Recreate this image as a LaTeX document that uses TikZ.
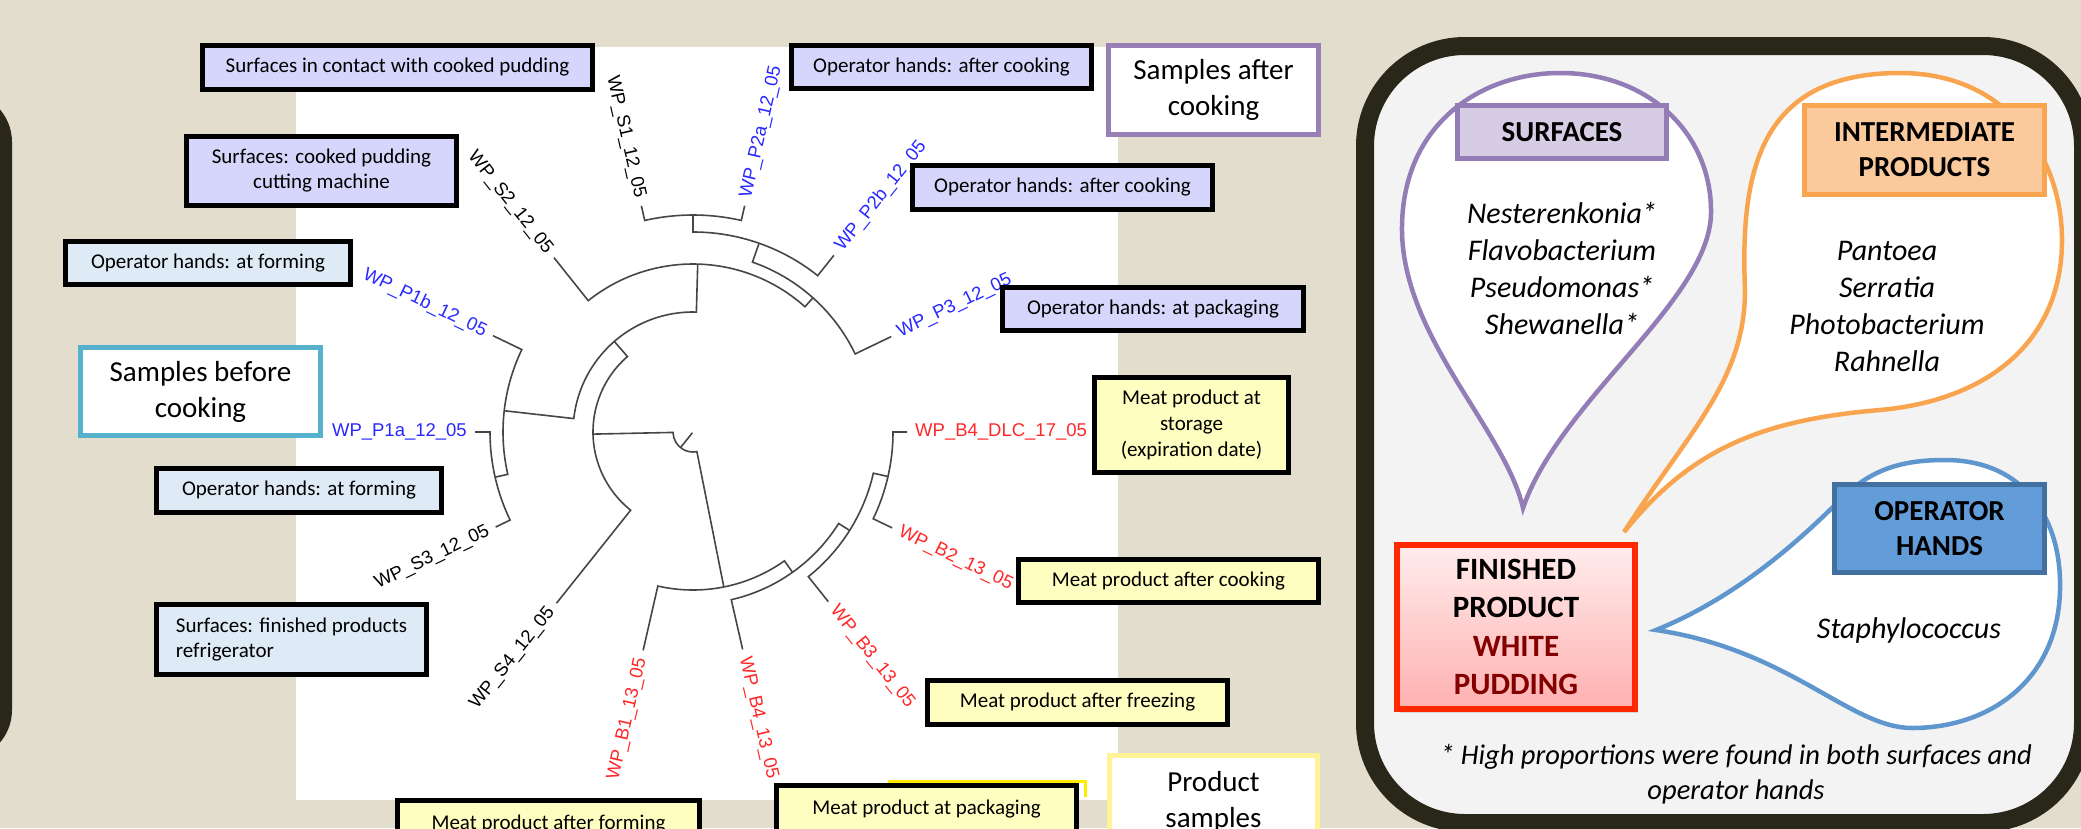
\documentclass[tikz,border=0pt]{standalone}
\usepackage{fontspec}
\setmainfont{Carlito}
\newfontfamily\arialfont{Liberation Sans}
\usetikzlibrary{shadows}
\definecolor{beige}{RGB}{226,221,205}
\definecolor{darkframe}{RGB}{41,38,26}
\definecolor{panelgrey}{RGB}{243,243,243}
\definecolor{lavender}{RGB}{214,214,252}
\definecolor{paleblue}{RGB}{222,235,246}
\definecolor{paleyellow}{RGB}{254,254,192}
\definecolor{treegrey}{RGB}{70,70,70}
\definecolor{treeblue}{RGB}{40,40,255}
\definecolor{treered}{RGB}{255,40,40}
\definecolor{cyanframe}{RGB}{86,178,204}
\definecolor{purpleframe}{RGB}{152,128,183}
\definecolor{yellowframe}{RGB}{255,243,150}
\definecolor{markyellow}{RGB}{255,235,0}
\definecolor{surfline}{RGB}{148,124,182}
\definecolor{surffill}{RGB}{214,204,228}
\definecolor{interline}{RGB}{249,165,80}
\definecolor{interfill}{RGB}{251,202,156}
\definecolor{handline}{RGB}{96,150,206}
\definecolor{handfill}{RGB}{98,157,218}
\definecolor{handdark}{RGB}{66,112,160}
\definecolor{finline}{RGB}{255,40,0}
\definecolor{puddingred}{RGB}{130,0,0}

\newcommand{\boxfont}{\fontsize{21}{25}\selectfont}
\newcommand{\groupfont}{\fontsize{29}{36}\selectfont}
\newcommand{\headfont}{\bfseries\fontsize{29}{35}\selectfont}
\newcommand{\genusfont}{\itshape\fontsize{30}{37}\selectfont}
% one clade: arc at radius #3 between angles #1 and #2, children out to #4 and #5
\newcommand{\treeclade}[5]{%
  \draw[treeline] (#1:#4pt) -- (#1:#3pt) arc[start angle=#1, end angle=#2, radius=#3pt] -- (#2:#5pt);}

\tikzset{
  treeline/.style={draw=treegrey, line width=1.6},
  treelabel/.style={font=\arialfont\fontsize{18.5}{20}\selectfont, inner sep=0},
  labelbox/.style={draw=black, line width=5, inner sep=0, align=center, font=\boxfont},
  lavbox/.style={labelbox, fill=lavender},
  bluebox/.style={labelbox, fill=paleblue},
  yelbox/.style={labelbox, fill=paleyellow},
  groupbox/.style={fill=white, line width=5, inner sep=0, align=center, font=\groupfont},
  headbox/.style={line width=5, inner sep=0, align=center, font=\headfont},
  balloon/.style={fill=white, line width=4.5},
}

\begin{document}
\begin{tikzpicture}[x=1pt, y=-1pt]
  \useasboundingbox (0,0) rectangle (2081,828);
  \clip (0,0) rectangle (2081,828);
  \fill[beige] (0,0) rectangle (2081,828);
  % left panel edge
  \fill[darkframe, rounded corners=50] (-150,92) rectangle (12,760);
  % tree plot area
  \fill[white] (296,47) rectangle (1118,800);

  \begin{scope}[shift={(693,432)}]
    % samples after cooking
    \treeclade{77.14}{102.86}{217}{232}{232}
    \treeclade{51.43}{90}{200}{226}{217}
    \treeclade{25.71}{70.71}{180}{220}{200}
    \treeclade{48.21}{128.57}{168}{180}{223}
    % samples before cooking
    \treeclade{180}{205.71}{203}{218}{219}
    \treeclade{154.29}{192.86}{190}{222}{203}
    \treeclade{88.39}{173.57}{120}{168}{190}
    \treeclade{130.98}{231.43}{100}{120}{219}
    % product samples
    \treeclade{334.29}{360}{200}{221}{214}
    \treeclade{308.57}{347.14}{185}{217}{200}
    \treeclade{282.86}{327.86}{172}{223}{185}
    \treeclade{257.14}{305.36}{158}{224}{172}
    % root
    \treeclade{181.21}{281.25}{20}{100}{158}
    \draw[treeline] (231.23:20pt) -- (231.23:1pt);
    \foreach \ang/\rad/\lab/\col/\anc/\rot [count=\i] in {
        0/222/WP\_B4\_DLC\_17\_05/treered/west/0,
        25.71/228/WP\_P3\_12\_05/treeblue/west/25.71,
        51.43/234/WP\_P2b\_12\_05/treeblue/west/51.43,
        77.14/240/WP\_P2a\_12\_05/treeblue/west/77.14,
        102.86/240/WP\_S1\_12\_05/black/east/-77.14,
        128.57/231/WP\_S2\_12\_05/black/east/-51.43,
        154.29/230/WP\_P1b\_12\_05/treeblue/east/-25.71,
        180/226/WP\_P1a\_12\_05/treeblue/east/0,
        205.71/227/WP\_S3\_12\_05/black/east/25.71,
        231.43/227/WP\_S4\_12\_05/black/east/51.43,
        257.14/232/WP\_B1\_13\_05/treered/east/77.14,
        282.86/231/WP\_B4\_13\_05/treered/west/-77.14,
        308.57/225/WP\_B3\_13\_05/treered/west/-51.43,
        334.29/229/WP\_B2\_13\_05/treered/west/-25.71}
      \node[treelabel, text=\col, anchor=\anc, rotate=\rot] (tip\i) at (\ang:\rad pt) {\lab};
  \end{scope}

  % sample boxes round the tree
  \node[lavbox, minimum width=390, minimum height=44] (surfcontact) at (397.5,67.5) {Surfaces in contact with cooked pudding};
  \node[lavbox, minimum width=270, minimum height=69] (surfcutting) at (321.5,171) {Surfaces: cooked pudding\\cutting machine};
  \node[bluebox, minimum width=285, minimum height=43] (handsform1) at (208,263) {Operator hands: at forming};
  \node[groupbox, draw=cyanframe, minimum width=240, minimum height=88] (beforecook) at (200.5,391.5) {Samples before\\cooking};
  \node[bluebox, minimum width=285, minimum height=44] (handsform2) at (299,490.5) {Operator hands: at forming};
  \node[bluebox, align=left, minimum width=270, minimum height=70] (surffridge) at (291.5,639.5) {Surfaces: finished products\\refrigerator};
  \node[yelbox, minimum width=302, minimum height=47] (meatform) at (548.5,824) {Meat product after forming};
  \draw[markyellow, line width=3] (888,781) -- (1085,781) -- (1085,797);
  \node[yelbox, minimum width=300, minimum height=47] (meatpack) at (926.5,809) {Meat product at packaging};
  \node[groupbox, draw=yellowframe, minimum width=208, minimum height=92] (prodsamples) at (1213.5,801.5) {Product\\samples};
  \node[groupbox, draw=purpleframe, minimum width=210, minimum height=89] (aftercook) at (1213.5,90) {Samples after\\cooking};
  \node[lavbox, minimum width=300, minimum height=43] (handsafter1) at (941.5,67) {Operator hands: after cooking};
  \node[lavbox, minimum width=300, minimum height=44] (handsafter2) at (1062.5,187.5) {Operator hands: after cooking};
  \node[lavbox, minimum width=301, minimum height=43] (handspack) at (1153,309) {Operator hands: at packaging};
  \node[yelbox, font=\fontsize{21}{26}\selectfont, minimum width=194, minimum height=95] (meatstore) at (1191.5,425) {Meat product at\\storage\\(expiration date)};
  \node[yelbox, minimum width=300, minimum height=43] (meatcook) at (1168.5,581) {Meat product after cooking};
  \node[yelbox, minimum width=300, minimum height=44] (meatfreeze) at (1077.5,702.5) {Meat product after freezing};

  % summary panel
  \draw[line width=18, draw=darkframe, fill=panelgrey, rounded corners=100] (1365,46) rectangle (2083,823);
  \draw[balloon, draw=surfline] (1523,508) .. controls (1505,430) and (1405,340) .. (1402,233)
    .. controls (1400,125) and (1480,73) .. (1560,73)
    .. controls (1650,73) and (1712,135) .. (1711,213)
    .. controls (1710,300) and (1560,400) .. (1523,508) -- cycle;
  \draw[balloon, draw=interline] (1624,532) .. controls (1690,430) and (1745,380) .. (1745,290)
    .. controls (1740,170) and (1760,73) .. (1900,73)
    .. controls (2010,73) and (2062,160) .. (2062,240)
    .. controls (2062,340) and (1990,400) .. (1880,410)
    .. controls (1760,420) and (1690,450) .. (1624,532) -- cycle;
  \draw[balloon, draw=handline] (1656,630) .. controls (1730,600) and (1790,550) .. (1840,500)
    .. controls (1870,470) and (1900,460) .. (1945,460)
    .. controls (2025,460) and (2062,520) .. (2060,590)
    .. controls (2058,680) and (1990,728) .. (1912,728)
    .. controls (1850,728) and (1790,650) .. (1656,630) -- cycle;

  \node[headbox, draw=surfline, fill=surffill, minimum width=209, minimum height=53] (surfhead) at (1562,132) {SURFACES};
  \node[font=\genusfont, align=center] (surfgenus) at (1562,268.5) {Nesterenkonia*\\Flavobacterium\\Pseudomonas*\\Shewanella*};
  \node[headbox, draw=interline, fill=interfill, minimum width=240, minimum height=89] (interhead) at (1924.5,150) {INTERMEDIATE\\PRODUCTS};
  \node[font=\genusfont, align=center] (intergenus) at (1887,306) {Pantoea\\Serratia\\Photobacterium\\Rahnella};
  \node[headbox, draw=handdark, fill=handfill, minimum width=210, minimum height=88] (handhead) at (1939.5,528.5) {OPERATOR\\HANDS};
  \node[font=\genusfont] (handgenus) at (1909,630) {Staphylococcus};
  \node[line width=6, draw=finline, top color={rgb,255:red,255;green,236;blue,236}, bottom color={rgb,255:red,255;green,176;blue,176},
        drop shadow={opacity=0.25, shadow xshift=3pt, shadow yshift=-4pt},
        minimum width=238, minimum height=164, inner sep=0, align=center,
        font=\bfseries\fontsize{31}{38.5}\selectfont] (finished) at (1516,627)
        {FINISHED\\PRODUCT\\\textcolor{puddingred}{WHITE}\\\textcolor{puddingred}{PUDDING}};
  \node[font=\itshape\fontsize{28.5}{35}\selectfont, align=center] (footnote) at (1736,774.5)
        {* High proportions were found in both surfaces and\\operator hands};
\end{tikzpicture}
\end{document}
